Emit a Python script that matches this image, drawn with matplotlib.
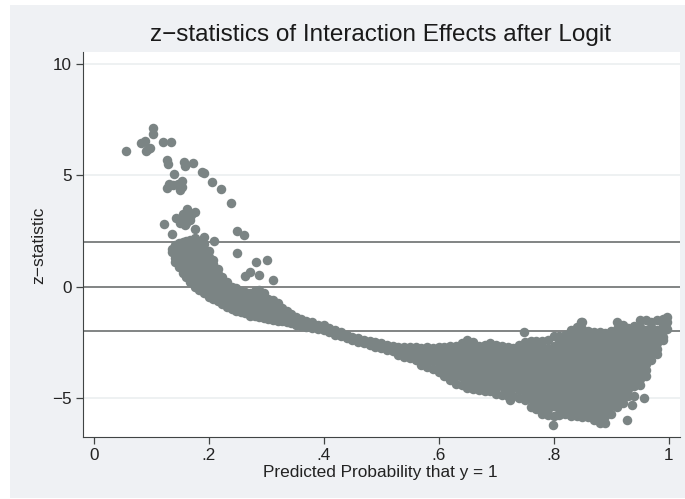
import matplotlib
matplotlib.use('Agg')
import matplotlib.pyplot as plt
from matplotlib.patches import Rectangle

plt.rcParams['font.family'] = ['Liberation Sans', 'DejaVu Sans']

# isolated points
loose_x = [.057, .103, .104, .083, .090, .091, .098, .094, .121, .1345, .127, .129, .157, .158, .172,
           .188, .192, .205, .222, .239, .140, .1535, .131, .127, .138, .147, .150, .153,
           .122, .1355, .2486, .261, .250, .282, .302, .272, .2625, .287, .312, .2087, .191,
           .176, .162, .144, .150, .159, .168, .176, .155, .165, .152, .160, .170, .748, .848,
           .798, .927, .957, .937, .724]
loose_y = [6.08, 7.13, 6.86, 6.45, 6.53, 6.10, 6.23, 6.15, 6.50, 6.50, 5.68, 5.50, 5.58, 5.40, 5.53,
           5.14, 5.10, 4.69, 4.38, 3.77, 5.06, 4.75, 4.60, 4.40, 4.55, 4.60, 4.35, 4.45,
           2.82, 2.36, 2.50, 2.30, 1.50, 1.12, 1.18, .67, .48, .50, .28, 2.03, 2.24,
           3.34, 3.46, 3.06, 2.84, 2.77, 3.00, 2.60, 3.25, 3.10, 2.95, 2.85, 3.20, -2.05, -1.57,
           -6.20, -5.98, -5.00, -5.30, -5.08]

# curved arm on the left, one list of y per x
arm_x = [.137, .142, .148, .155, .160, .168, .176, .184, .192, .200, .208, .216, .224, .232, .240,
         .248, .256, .264, .272, .280, .288, .296, .304, .312, .320, .328, .336, .344, .352, .360]
arm_y = [[1.7, 1.55],
         [1.85, 1.55, 1.3, 1.1],
         [1.95, 1.7, 1.4, 1.15, .9],
         [2.0, 1.75, 1.45, 1.15, .85, .6],
         [2.05, 1.9, 1.6, 1.3, 1.0, .7, .45],
         [2.1, 1.85, 1.55, 1.25, .95, .65, .4, .2],
         [2.2, 2.0, 1.7, 1.4, 1.1, .8, .5, .25, 0],
         [2.0, 1.85, 1.55, 1.25, .95, .65, .35, .1, -.15],
         [1.9, 1.65, 1.35, 1.05, .75, .45, .15, -.1, -.3],
         [1.6, 1.35, 1.05, .8, .5, .2, -.1, -.3, -.45],
         [1.2, 1.0, .7, .4, .1, -.15, -.35, -.55],
         [.8, .55, .3, .05, -.2, -.45, -.65],
         [.45, .2, -.05, -.3, -.55, -.8],
         [.2, -.05, -.3, -.55, -.75, -.9],
         [0, -.25, -.5, -.75, -1.0],
         [-.05, -.3, -.55, -.8, -1.1],
         [-.2, -.45, -.7, -.95, -1.15],
         [-.25, -.5, -.75, -1.0, -1.2],
         [-.3, -.55, -.8, -1.05, -1.3],
         [-.2, -.45, -.7, -.95, -1.15, -1.3],
         [-.15, -.45, -.75, -1.05, -1.35],
         [-.3, -.6, -.85, -1.15, -1.4],
         [-.55, -.8, -1.1, -1.45],
         [-.6, -.9, -1.2, -1.5],
         [-.75, -1.05, -1.3, -1.55],
         [-.95, -1.2, -1.55],
         [-1.1, -1.35, -1.6],
         [-1.25, -1.45, -1.65],
         [-1.35, -1.7],
         [-1.45, -1.75]]

# narrow tail in the middle
tail_x = [.37, .38, .39, .40, .41, .42, .43, .44, .45, .46, .47, .48, .49, .50, .51, .52, .53, .54,
          .55, .56, .57, .58, .59]
tail_y = [[-1.55, -1.8], [-1.6, -1.85], [-1.7, -1.9], [-1.7, -1.95], [-1.85, -2.05], [-1.95, -2.15],
          [-2.05, -2.2], [-2.15, -2.3], [-2.25, -2.4], [-2.3, -2.5], [-2.4, -2.55], [-2.45, -2.6],
          [-2.5, -2.7], [-2.55, -2.75], [-2.6, -2.85], [-2.65, -2.9], [-2.7, -3.05], [-2.7, -2.95, -3.15],
          [-2.7, -2.95, -3.2], [-2.7, -3.0, -3.3], [-2.75, -3.05, -3.35, -3.5], [-2.7, -3.0, -3.3, -3.6],
          [-2.75, -3.05, -3.35, -3.7]]

# dense cloud on the right
blob_x = [.60, .61, .62, .63, .64, .65, .66, .67, .68, .69, .70, .71, .72, .73, .74, .75, .76, .77, .78, .79,
          .80, .81, .82, .83, .84, .85, .86, .87, .88, .89, .90, .91, .92, .93, .94, .95, .96, .97, .98, .99, .997]
blob_y = [[-2.7, -3.0, -3.3, -3.6, -3.85],
          [-2.7, -2.85, -3.15, -3.45, -3.75, -4.0],
          [-2.65, -2.95, -3.25, -3.55, -3.85, -4.2],
          [-2.65, -2.8, -3.1, -3.4, -3.7, -4.0, -4.35],
          [-2.55, -2.85, -3.15, -3.45, -3.75, -4.05, -4.4],
          [-2.4, -2.7, -3.0, -3.3, -3.6, -3.9, -4.2, -4.55],
          [-2.5, -2.85, -3.15, -3.45, -3.75, -4.05, -4.35, -4.6],
          [-2.65, -2.95, -3.25, -3.55, -3.85, -4.15, -4.45, -4.65],
          [-2.6, -2.8, -3.1, -3.4, -3.7, -4.0, -4.3, -4.7],
          [-2.55, -2.9, -3.2, -3.5, -3.8, -4.1, -4.4, -4.7],
          [-2.6, -2.75, -3.05, -3.35, -3.65, -3.95, -4.25, -4.55, -4.8],
          [-2.65, -2.95, -3.25, -3.55, -3.85, -4.15, -4.45, -4.85],
          [-2.7, -2.85, -3.15, -3.45, -3.75, -4.05, -4.35, -4.65, -4.9],
          [-2.75, -3.0, -3.3, -3.6, -3.9, -4.2, -4.5, -4.9],
          [-2.6, -2.85, -3.15, -3.45, -3.75, -4.05, -4.35, -4.65, -5.0],
          [-2.5, -2.8, -3.1, -3.4, -3.7, -4.0, -4.3, -4.6, -4.9, -5.1],
          [-2.45, -2.65, -2.95, -3.25, -3.55, -3.85, -4.15, -4.45, -4.75, -5.05, -5.4],
          [-2.45, -2.8, -3.1, -3.4, -3.7, -4.0, -4.3, -4.6, -4.9, -5.2, -5.5],
          [-2.45, -2.65, -2.95, -3.25, -3.55, -3.85, -4.15, -4.45, -4.75, -5.05, -5.35, -5.7],
          [-2.4, -2.8, -3.1, -3.4, -3.7, -4.0, -4.3, -4.6, -4.9, -5.2, -5.5, -5.75],
          [-2.2, -2.65, -2.95, -3.25, -3.55, -3.85, -4.15, -4.45, -4.75, -5.05, -5.35, -5.8],
          [-2.2, -2.5, -2.8, -3.1, -3.4, -3.7, -4.0, -4.3, -4.6, -4.9, -5.2, -5.5, -5.75],
          [-2.15, -2.35, -2.65, -2.95, -3.25, -3.55, -3.85, -4.15, -4.45, -4.75, -5.05, -5.35, -5.7],
          [-1.95, -2.2, -2.5, -2.8, -3.1, -3.4, -3.7, -4.0, -4.3, -4.6, -4.9, -5.2, -5.5, -5.8],
          [-1.8, -2.05, -2.35, -2.65, -2.95, -3.25, -3.55, -3.85, -4.15, -4.45, -4.75, -5.05, -5.35, -5.65, -5.8],
          [-1.6, -1.9, -2.2, -2.5, -2.8, -3.1, -3.4, -3.7, -4.0, -4.3, -4.6, -4.9, -5.2, -5.5, -5.85],
          [-2.0, -2.35, -2.65, -2.95, -3.25, -3.55, -3.85, -4.15, -4.45, -4.75, -5.05, -5.35, -5.65, -5.85],
          [-2.05, -2.2, -2.5, -2.8, -3.1, -3.4, -3.7, -4.0, -4.3, -4.6, -4.9, -5.2, -5.5, -5.8, -6.0],
          [-2.05, -2.35, -2.65, -2.95, -3.25, -3.55, -3.85, -4.15, -4.45, -4.75, -5.05, -5.35, -5.65, -5.95, -6.1],
          [-2.1, -2.2, -2.5, -2.8, -3.1, -3.4, -3.7, -4.0, -4.3, -4.6, -4.9, -5.2, -5.5, -5.8, -6.1],
          [-2.0, -2.35, -2.65, -2.95, -3.25, -3.55, -3.85, -4.15, -4.45, -4.75, -5.05, -5.35, -5.7],
          [-1.6, -1.9, -2.2, -2.5, -2.8, -3.1, -3.4, -3.7, -4.0, -4.3, -4.6, -4.9, -5.15, -5.4],
          [-1.7, -2.05, -2.35, -2.65, -2.95, -3.25, -3.55, -3.85, -4.15, -4.45, -4.75, -5.0, -5.2],
          [-1.85, -2.2, -2.5, -2.8, -3.1, -3.4, -3.7, -4.0, -4.3, -4.6, -4.9],
          [-1.75, -2.05, -2.35, -2.65, -2.95, -3.25, -3.55, -3.85, -4.15, -4.45, -4.9],
          [-1.5, -1.8, -2.1, -2.4, -2.7, -3.0, -3.3, -3.6, -3.9, -4.15, -4.4],
          [-1.5, -1.95, -2.25, -2.55, -2.85, -3.15, -3.45, -3.75, -4.0],
          [-1.6, -1.8, -2.1, -2.4, -2.7, -3.0, -3.3],
          [-1.5, -1.95, -2.25, -2.55, -2.8, -3.0],
          [-1.45, -1.7, -2.0, -2.25, -2.4],
          [-1.35, -1.6, -1.9]]

x = list(loose_x)
y = list(loose_y)
for cols_x, cols_y in [(arm_x, arm_y), (tail_x, tail_y), (blob_x, blob_y)]:
    for xv, ys in zip(cols_x, cols_y):
        for yv in ys:
            x.append(xv)
            y.append(yv)

x_ticks = [0, .2, .4, .6, .8, 1]
x_labels = ['0', '.2', '.4', '.6', '.8', '1']
y_ticks = [-5, 0, 5, 10]
y_labels = ['\u22125', '0', '5', '10']
ref_lines = [2, 0, -2]

W, H = 685, 499
fig = plt.figure(figsize=(W / 100, H / 100), dpi=100, facecolor='white')
fig.patches.append(Rectangle((10 / W, 1 / H), 675 / W, 493 / H, transform=fig.transFigure,
                             facecolor='#eff1f4', edgecolor='none', zorder=-5))

ax = fig.add_axes([82.7 / W, 1 - 436.7 / H, (680 - 82.7) / W, (436.7 - 52) / H])
ax.set_facecolor('white')
ax.set_xlim(-0.0191, 1.0197)
ax.set_ylim(-6.73, 10.52)

for v in [10, 5, -5]:
    ax.axhline(v, color='#e9edef', lw=1.1, zorder=1)
for v in ref_lines:
    ax.axhline(v, color='#5f6363', lw=1.1, zorder=2)

ax.scatter(x, y, s=47, color='#7b8484', linewidths=0, zorder=3)

ax.spines['top'].set_visible(False)
ax.spines['right'].set_visible(False)
ax.spines['left'].set_color('#404444')
ax.spines['bottom'].set_color('#404444')
ax.set_xticks(x_ticks)
ax.set_xticklabels(x_labels)
ax.set_yticks(y_ticks)
ax.set_yticklabels(y_labels)
ax.tick_params(length=5, width=0.9, color='#404444', labelsize=12.3, labelcolor='#222222', pad=2.8)

fig.text(381 / W, 1 - 35 / H, 'z\u2212statistics of Interaction Effects after Logit', fontsize=17.45,
         color='#1a1a1a', ha='center', va='center')
fig.text(380.5 / W, 1 - 472.5 / H, 'Predicted Probability that y = 1', fontsize=12.4,
         color='#222222', ha='center', va='center')
fig.text(39 / W, 1 - 245 / H, 'z\u2212statistic', fontsize=12.6, rotation=90,
         color='#222222', ha='center', va='center')

fig.savefig('out.png', dpi=100)
